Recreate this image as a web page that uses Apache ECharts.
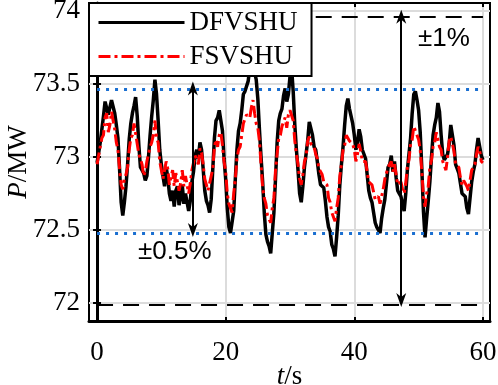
<!DOCTYPE html>
<html>
<head>
<meta charset="utf-8">
<script src="https://cdn.jsdelivr.net/npm/echarts@6/dist/echarts.min.js"></script>
<style>
  html, body { margin: 0; padding: 0; background: #fff; }
  #PowerChart { width: 498px; height: 385px; }
</style>
</head>
<body>
<div id="PowerChart"></div>
<script>
// time axis (s), quarter-second steps
var timeS = [
  0,0.25,0.5,0.75,1,1.25,1.5,1.75,2,2.25,
  2.5,2.75,3,3.25,3.5,3.75,4,4.25,4.5,4.75,
  5,5.25,5.5,5.75,6,6.25,6.5,6.75,7,7.25,
  7.5,7.75,8,8.25,8.5,8.75,9,9.25,9.5,9.75,
  10,10.25,10.5,10.75,11,11.25,11.5,11.75,12,12.25,
  12.5,12.75,13,13.25,13.5,13.75,14,14.25,14.5,14.75,
  15,15.25,15.5,15.75,16,16.25,16.5,16.75,17,17.25,
  17.5,17.75,18,18.25,18.5,18.75,19,19.25,19.5,19.75,
  20,20.25,20.5,20.75,21,21.25,21.5,21.75,22,22.25,
  22.5,22.75,23,23.25,23.5,23.75,24,24.25,24.5,24.75,
  25,25.25,25.5,25.75,26,26.25,26.5,26.75,27,27.25,
  27.5,27.75,28,28.25,28.5,28.75,29,29.25,29.5,29.75,
  30,30.25,30.5,30.75,31,31.25,31.5,31.75,32,32.25,
  32.5,32.75,33,33.25,33.5,33.75,34,34.25,34.5,34.75,
  35,35.25,35.5,35.75,36,36.25,36.5,36.75,37,37.25,
  37.5,37.75,38,38.25,38.5,38.75,39,39.25,39.5,39.75,
  40,40.25,40.5,40.75,41,41.25,41.5,41.75,42,42.25,
  42.5,42.75,43,43.25,43.5,43.75,44,44.25,44.5,44.75,
  45,45.25,45.5,45.75,46,46.25,46.5,46.75,47,47.25,
  47.5,47.75,48,48.25,48.5,48.75,49,49.25,49.5,49.75,
  50,50.25,50.5,50.75,51,51.25,51.5,51.75,52,52.25,
  52.5,52.75,53,53.25,53.5,53.75,54,54.25,54.5,54.75,
  55,55.25,55.5,55.75,56,56.25,56.5,56.75,57,57.25,
  57.5,57.75,58,58.25,58.5,58.75,59,59.25,59.5,59.75,
  60];

// P/MW, DFVSHU (black)
var dfvshu = [
  72.96,73.03,73.10,73.19,73.28,73.38,73.39,73.29,73.30,73.39,
  73.40,73.30,73.22,73.13,72.92,72.69,72.60,72.69,72.80,72.95,
  73.12,73.23,73.30,73.35,73.41,73.28,73.08,72.93,72.92,72.89,
  72.84,72.87,73.00,73.15,73.28,73.39,73.53,73.43,73.25,73.05,
  72.95,72.87,72.80,72.93,72.86,72.75,72.70,72.77,72.66,72.77,
  72.80,72.67,72.72,72.81,72.68,72.75,72.76,72.63,72.70,72.83,
  72.90,73.01,73.05,72.99,73.10,73.05,72.92,72.77,72.70,72.67,
  72.62,72.71,72.92,73.13,73.25,73.27,73.32,73.31,73.18,72.99,
  72.85,72.65,72.52,72.48,72.48,72.63,72.85,73.05,73.18,73.23,
  73.32,73.43,73.45,73.45,73.52,73.61,73.62,73.63,73.58,73.53,
  73.40,73.19,73.00,72.83,72.62,72.47,72.42,72.39,72.34,72.48,
  72.62,72.85,73.10,73.25,73.30,73.33,73.42,73.47,73.38,73.43,
  73.55,73.61,73.45,73.22,73.05,72.91,72.75,72.69,72.80,72.93,
  73.02,73.11,73.24,73.23,73.15,73.07,73.05,72.97,72.88,72.81,
  72.80,72.79,72.70,72.59,72.52,72.49,72.40,72.37,72.32,72.45,
  72.60,72.81,72.95,73.07,73.22,73.35,73.40,73.33,73.28,73.23,
  73.15,73.05,73.10,73.19,73.14,73.05,73.05,72.99,72.88,72.77,
  72.72,72.69,72.62,72.55,72.52,72.53,72.48,72.58,72.65,72.71,
  72.82,72.93,72.95,73.01,72.90,72.97,72.86,72.77,72.75,72.73,
  72.68,72.63,72.75,72.91,73.02,73.13,73.30,73.43,73.45,73.39,
  73.32,73.17,72.92,72.63,72.45,72.58,72.70,72.83,73.00,73.15,
  73.22,73.27,73.37,73.31,73.15,73.02,72.98,72.97,73.02,73.09,
  73.22,73.21,73.08,72.95,72.92,72.89,72.82,72.75,72.74,72.73,
  72.65,72.61,72.72,72.83,72.90,72.95,73.05,73.13,73.12,73.01,
  72.98];

// P/MW, FSVSHU (red)
var fsvshu = [
  72.95,73.01,73.02,73.13,73.15,73.27,73.30,73.17,73.22,73.31,
  73.30,73.19,73.10,73.05,72.92,72.81,72.78,72.85,72.88,72.93,
  73.05,73.13,73.15,73.23,73.22,73.09,73.02,73.01,72.95,72.87,
  72.90,72.97,72.98,73.07,73.10,73.15,73.25,73.13,73.10,72.97,
  72.96,72.85,72.85,72.97,72.92,72.81,72.82,72.91,72.80,72.89,
  72.88,72.77,72.82,72.91,72.80,72.87,72.86,72.75,72.82,72.91,
  72.92,73.01,73.02,72.95,73.06,73.03,72.95,72.85,72.85,72.77,
  72.78,72.87,72.92,73.07,73.12,73.07,73.15,73.17,73.08,72.97,
  72.90,72.75,72.68,72.65,72.62,72.75,72.85,72.99,73.05,73.07,
  73.15,73.23,73.22,73.29,73.28,73.27,73.34,73.39,73.30,73.23,
  73.20,73.11,72.95,72.79,72.72,72.68,72.60,72.59,72.55,72.65,
  72.72,72.91,73.02,73.13,73.15,73.21,73.22,73.27,73.20,73.29,
  73.32,73.31,73.25,73.11,73.02,72.95,72.85,72.81,72.88,72.97,
  73.00,73.11,73.14,73.09,73.08,73.07,73.02,72.99,72.92,72.93,
  72.88,72.83,72.82,72.81,72.72,72.69,72.62,72.61,72.56,72.65,
  72.72,72.87,72.95,73.05,73.08,73.15,73.15,73.11,73.10,73.09,
  73.05,72.97,73.02,73.09,73.04,72.97,72.98,72.97,72.90,72.83,
  72.82,72.81,72.76,72.71,72.70,72.73,72.68,72.69,72.78,72.85,
  72.86,72.93,72.92,72.97,72.90,72.95,72.88,72.81,72.82,72.83,
  72.78,72.75,72.82,72.93,72.98,73.09,73.12,73.21,73.20,73.15,
  73.12,73.05,72.90,72.73,72.66,72.75,72.80,72.93,72.98,73.07,
  73.10,73.17,73.16,73.07,73.05,72.97,72.96,72.91,73.00,73.11,
  73.14,73.09,73.04,72.95,72.94,72.93,72.86,72.81,72.84,72.85,
  72.80,72.77,72.84,72.91,72.92,72.95,73.02,73.07,73.04,72.97,
  72.96];

var xTicks = [0, 20, 40, 60];
var yTicks = [72, 72.5, 73, 73.5, 74];
var halfPctBand = [72.475, 73.466];
var onePctBand = [71.986, 73.96];

var serif = '"Liberation Serif", "Times New Roman", serif';
var sans = '"Liberation Sans", Arial, sans-serif';

function pairs(vals) {
  return timeS.map(function (t, i) { return [t, vals[i]]; });
}

var arrowHead = 'path://M5,0 L10,14 L5,10 L0,14 Z';

var chart = echarts.init(document.getElementById('PowerChart'));
var option = {
  animation: false,
  grid: {
    left: 89, right: 8, top: 3, bottom: 64,
    outerBoundsMode: 'none', containLabel: false,
    show: true, borderColor: '#000', borderWidth: 2
  },
  legend: {
    left: 89, top: 3,
    orient: 'vertical',
    backgroundColor: '#fff',
    borderColor: '#000', borderWidth: 2,
    padding: [6, 14, 6, 8],
    itemWidth: 86, itemHeight: 14, itemGap: 7,
    itemStyle: { opacity: 0 },
    lineStyle: { width: 3 },
    textStyle: { fontFamily: serif, fontSize: 27, color: '#000' },
    data: ['DFVSHU', 'FSVSHU']
  },
  xAxis: [{
    type: 'value', min: -1.25, max: 61.1,
    name: '{i|t}/s', nameLocation: 'middle', nameGap: 42, nameMoveOverlap: false,
    nameTextStyle: {
      fontFamily: serif, fontSize: 27, color: '#000',
      rich: { i: { fontFamily: serif, fontSize: 27, fontStyle: 'italic', color: '#000' } }
    },
    axisLine: { show: true, lineStyle: { color: '#000', width: 3 } },
    axisTick: { show: true, inside: true, length: 4, customValues: xTicks, lineStyle: { color: '#000', width: 2 } },
    axisLabel: { customValues: xTicks, fontFamily: serif, fontSize: 27, color: '#000', margin: 18 },
    splitLine: { show: true, lineStyle: { color: '#dcdcdc', width: 2 } }
  }, {
    type: 'value', min: -1.25, max: 61.1, position: 'top',
    axisLine: { show: false },
    axisTick: { show: true, inside: true, length: 4, customValues: xTicks, lineStyle: { color: '#000', width: 2 } },
    axisLabel: { show: false },
    splitLine: { show: false }
  }],
  yAxis: [{
    type: 'value', min: 71.877, max: 74.055,
    name: '{i|P}/MW', nameLocation: 'middle', nameGap: 57, nameRotate: 90, nameMoveOverlap: false,
    nameTextStyle: {
      fontFamily: serif, fontSize: 27, color: '#000',
      rich: { i: { fontFamily: serif, fontSize: 27, fontStyle: 'italic', color: '#000' } }
    },
    axisLine: { show: true, lineStyle: { color: '#000', width: 3 } },
    axisTick: { show: true, inside: true, length: 4, customValues: yTicks, lineStyle: { color: '#000', width: 2 } },
    axisLabel: { customValues: yTicks, fontFamily: serif, fontSize: 27, color: '#000', margin: 9 },
    splitLine: { show: true, lineStyle: { color: '#dcdcdc', width: 2 } }
  }, {
    type: 'value', min: 71.877, max: 74.055, position: 'right',
    axisLine: { show: false },
    axisTick: { show: true, inside: true, length: 4, customValues: yTicks, lineStyle: { color: '#000', width: 2 } },
    axisLabel: { show: false },
    splitLine: { show: false }
  }],
  series: [
    {
      name: 'DFVSHU', type: 'line', showSymbol: false, symbol: 'none',
      data: pairs(dfvshu),
      lineStyle: { color: '#000', width: 3.5 },
      itemStyle: { color: '#000' },
      markLine: {
        silent: true, symbol: 'none', label: { show: false },
        data: [
          [{ coord: [0, halfPctBand[0]], lineStyle: { color: '#1a6fd1', width: 3, type: [3, 6] } }, { coord: [60, halfPctBand[0]] }],
          [{ coord: [0, halfPctBand[1]], lineStyle: { color: '#1a6fd1', width: 3, type: [3, 6] } }, { coord: [60, halfPctBand[1]] }],
          [{ coord: [0, onePctBand[0]], lineStyle: { color: '#000', width: 2, type: [16, 10] } }, { coord: [60, onePctBand[0]] }],
          [{ coord: [34, onePctBand[1]], lineStyle: { color: '#000', width: 2, type: [16, 10] } }, { coord: [60, onePctBand[1]] }]
        ]
      }
    },
    {
      name: 'FSVSHU', type: 'line', showSymbol: false, symbol: 'none',
      data: pairs(fsvshu),
      lineStyle: { color: '#ff0000', width: 3, type: [12, 4, 3, 4] },
      itemStyle: { color: '#ff0000' },
      markLine: {
        silent: true, symbol: [arrowHead, arrowHead], symbolSize: [10, 14],
        label: { show: false },
        lineStyle: { color: '#000', width: 2, type: 'solid' },
        data: [
          [{ coord: [14.9, 73.47] }, { coord: [14.9, 72.5] }],
          [{ coord: [47.3, 73.96] }, { coord: [47.3, 72.02] }]
        ]
      }
    }
  ],
  graphic: [
    { type: 'text', left: 138, top: 239, style: { text: '±0.5%', font: '26px ' + sans, fill: '#000' } },
    { type: 'text', left: 418, top: 26, style: { text: '±1%', font: '26px ' + sans, fill: '#000' } }
  ]
};
chart.setOption(option);
</script>
</body>
</html>
